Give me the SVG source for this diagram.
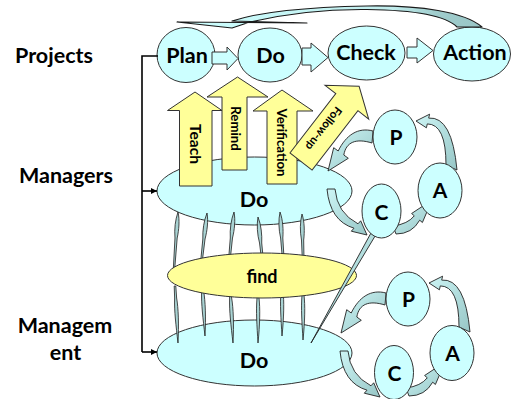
<svg xmlns="http://www.w3.org/2000/svg" xmlns:xlink="http://www.w3.org/1999/xlink" width="511" height="399" viewBox="0 0 511 399">
<defs>
<style>
.lbl{font-family:Lato,"Open Sans","Liberation Sans",sans-serif;font-weight:700;fill:#000;text-anchor:middle}
.big{font-size:21.5px}
.cy{fill:#ccffff;stroke:#333;stroke-width:1}
.yl{fill:#ffff99;stroke:#333;stroke-width:1}
.blk{fill:#ccffff;stroke:#333;stroke-width:1;stroke-linejoin:miter}
.tl{fill:url(#teal);stroke:#222;stroke-width:0.9;stroke-linejoin:round}
.sp{fill:#a9d3d3;stroke:#222;stroke-width:0.8}
.br{fill:none;stroke:#000;stroke-width:1.6}
</style>
<linearGradient id="teal" x1="0" y1="0" x2="1" y2="1">
<stop offset="0" stop-color="#cdf5f5"/>
<stop offset="1" stop-color="#97c6c6"/>
</linearGradient>
<linearGradient id="topband" x1="0" y1="0" x2="1" y2="0">
<stop offset="0" stop-color="#ccffff"/>
<stop offset="0.7" stop-color="#c2eeee"/>
<stop offset="0.85" stop-color="#a0cdcd"/>
<stop offset="1" stop-color="#99c6c6"/>
</linearGradient>
<marker id="ah" markerWidth="6" markerHeight="6" refX="6" refY="3" orient="auto" markerUnits="userSpaceOnUse">
<path d="M0,0 L6,3 L0,6 Z" fill="#000"/>
</marker>
<!-- thin leaf-shaped links between the layers -->
<path id="spikeU" d="M0,0 C2.4,8 2.2,18 1,26 L0.7,56 L-0.7,56 L-1.2,26 C-2.6,17 -2.2,8 0,0 Z"/>
<path id="spikeL" d="M-0.8,0 L0.8,0 L1,12 C2.2,22 2,38 0,57 C-1,40 -2.2,25 -1,12 Z"/>
</defs>

<!-- row labels -->
<g id="row-labels" class="lbl big">
<text x="54" y="63">Projects</text>
<text x="66" y="183">Managers</text>
<text x="65" y="333">Managem</text>
<text x="65.5" y="360">ent</text>
</g>

<!-- project cycle -->
<g id="plan"><ellipse class="cy" cx="186" cy="55" rx="29" ry="27.5"/><text class="lbl big" x="187" y="63">Plan</text></g>
<g id="do-top"><ellipse class="cy" cx="270" cy="55" rx="32" ry="27"/><text class="lbl big" x="270.5" y="63">Do</text></g>
<g id="check"><ellipse class="cy" cx="366.5" cy="53" rx="38.5" ry="27"/><text class="lbl big" x="366" y="60">Check</text></g>
<g id="action"><ellipse class="cy" cx="472" cy="54" rx="38.5" ry="27"/><text class="lbl big" x="475" y="60">Action</text></g>

<!-- layer ellipses -->
<g id="do-managers"><ellipse class="cy" cx="254.5" cy="191" rx="97.5" ry="34"/><text class="lbl big" x="254" y="207">Do</text></g>
<g id="do-management"><ellipse class="cy" cx="254.5" cy="353" rx="97.5" ry="33"/><text class="lbl big" x="254" y="368">Do</text></g>

<g id="links-between-layers" class="sp">
<use xlink:href="#spikeU" transform="translate(178,212) skewX(-4)"/>
<use xlink:href="#spikeU" transform="translate(207,213) skewX(-6.5)"/>
<use xlink:href="#spikeU" transform="translate(234,212) skewX(-5.5)"/>
<use xlink:href="#spikeU" transform="translate(258,217) skewX(6)"/>
<use xlink:href="#spikeU" transform="translate(280,212) skewX(4)"/>
<use xlink:href="#spikeU" transform="translate(302,214) skewX(1.5)"/>
<use xlink:href="#spikeL" transform="translate(175,286) skewX(3)"/>
<use xlink:href="#spikeL" transform="translate(202,279) skewX(3)"/>
<use xlink:href="#spikeL" transform="translate(230,286) skewX(3)"/>
<use xlink:href="#spikeL" transform="translate(258,286)"/>
<use xlink:href="#spikeL" transform="translate(282,279)"/>
<use xlink:href="#spikeL" transform="translate(303,283)"/>
</g>

<g id="find"><ellipse class="yl" cx="262" cy="275.5" rx="94.5" ry="22.5"/><text class="lbl" style="font-size:18px" x="262" y="283">find</text></g>

<!-- manager actions -->
<g id="teach">
<polygon class="yl" points="179.5,186 179.5,110.5 167.5,110.5 195,92 222,110.5 212,110.5 212,186"/>
<text class="lbl" style="font-size:15.5px" transform="translate(195.5,144) rotate(90)" y="5.6">Teach</text>
</g>
<g id="remind">
<polygon class="yl" points="222,170 222,97 207,97 237.5,77 268,97 247,97 247,170"/>
<text class="lbl" style="font-size:13.2px" transform="translate(235.5,128.5) rotate(90)" y="4.8">Remind</text>
</g>
<g id="verification">
<polygon class="yl" points="267,184 267,111 253,111 282,90 313,111 297,111 297,184"/>
<text class="lbl" style="font-size:13.2px" transform="translate(282,142.5) rotate(90)" y="4.8">Verification</text>
</g>
<g id="follow-up" transform="translate(301,161.5) rotate(37.7)">
<polygon class="yl" points="-14,0 -14,-75 -27.6,-75 0,-95 27.6,-75 14,-75 14,0"/>
<text class="lbl" style="font-size:11.5px" transform="translate(-2,-40) rotate(90)" y="4.1">Follow-up</text>
</g>

<g id="connectors">
<!-- bracket -->
<polyline class="br" points="158,56 142,56 142,352"/>
<line class="br" x1="142" y1="191" x2="157" y2="191" marker-end="url(#ah)"/>
<line class="br" x1="142" y1="352" x2="157" y2="352" marker-end="url(#ah)"/>
<!-- block arrows of the project cycle -->
<polygon class="blk" points="212,52 227,52 227,47 238,58.5 227,70 227,64 212,64"/>
<polygon class="blk" points="302,48 311,48 311,43 328,57.5 311,72 311,65 302,65"/>
<polygon class="blk" points="407,47 417,47 417,38 433,50.5 417,63 417,58 407,58"/>
<!-- return arrow Action to Plan -->
<path d="M482,27 C465,12 420,5 367,6 C310,7 260,12 232,21 L307,23 L177,22 L232,28 L250,22 C280,15 320,9 367,9.5 C410,10 445,15 457,27 Z" fill="url(#topband)" stroke="#1a1a1a" stroke-width="1.1" stroke-linejoin="round"/>
<!-- managers cycle -->
<g id="cycle-managers">
<path class="tl" d="M373,131 C358,127 346,135 338.2,151 L333.7,147.7 L328,171 L348.3,158.3 L343.8,155 C346,142 356,138 372,143 Z"/>
<path class="tl" d="M327,189 Q330,221 354,228.2 L351.3,231.2 L367,235 L360.7,220.8 L358,223.8 Q337,213 335,189 Z"/>
<path class="tl" d="M393,226 Q408,224 414.3,215.8 L411.6,213.5 L432,200 L422.4,222.5 L419.7,220.2 Q412,234 396,234 Z"/>
<path class="tl" d="M457,170 Q452,116 428.7,118.1 L429.6,114.2 L416,121 L426.4,127.8 L427.3,123.9 Q446,124 446,165 Z"/>
</g>
<!-- management cycle -->
<g id="cycle-management" transform="translate(13,162)">
<path class="tl" d="M373,131 C358,127 346,135 338.2,151 L333.7,147.7 L328,171 L348.3,158.3 L343.8,155 C346,142 356,138 372,143 Z"/>
<path class="tl" d="M327,189 Q330,221 354,228.2 L351.3,231.2 L367,235 L360.7,220.8 L358,223.8 Q337,213 335,189 Z"/>
<path class="tl" d="M393,226 Q408,224 414.3,215.8 L411.6,213.5 L432,200 L422.4,222.5 L419.7,220.2 Q412,234 396,234 Z"/>
<path class="tl" d="M457,170 Q452,116 428.7,118.1 L429.6,114.2 L416,121 L426.4,127.8 L427.3,123.9 Q446,124 446,165 Z"/>
</g>
<!-- link from the managers' C down to management -->
<path class="tl" d="M371.5,232 L376,234.5 L311,343 Z"/>
</g>

<!-- PDCA of managers -->
<g id="p-managers"><ellipse class="cy" cx="395" cy="137" rx="22" ry="27"/><text class="lbl" style="font-size:21px" x="396" y="145">P</text></g>
<g id="a-managers"><ellipse class="cy" cx="440" cy="190.5" rx="22" ry="27.5"/><text class="lbl" style="font-size:21px" x="440" y="198">A</text></g>
<g id="c-managers"><ellipse class="cy" cx="381.5" cy="211" rx="19.5" ry="27"/><text class="lbl" style="font-size:21px" x="381.5" y="220">C</text></g>
<!-- PDCA of management -->
<g id="p-management"><ellipse class="cy" cx="408" cy="299" rx="22" ry="27"/><text class="lbl" style="font-size:21px" x="408.5" y="307">P</text></g>
<g id="a-management"><ellipse class="cy" cx="452" cy="353" rx="22" ry="27.5"/><text class="lbl" style="font-size:21px" x="452.5" y="361">A</text></g>
<g id="c-management"><ellipse class="cy" cx="394" cy="372.5" rx="19.5" ry="27"/><text class="lbl" style="font-size:21px" x="394.5" y="381">C</text></g>
</svg>
